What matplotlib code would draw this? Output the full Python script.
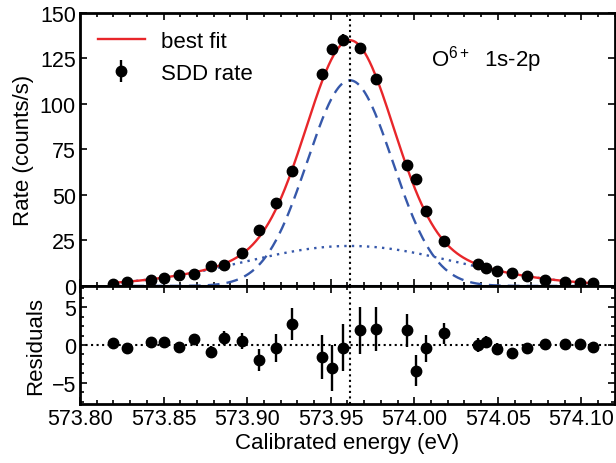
import matplotlib
matplotlib.use("Agg")
import matplotlib.pyplot as plt
import numpy as np
from matplotlib.ticker import MultipleLocator, FormatStrFormatter

plt.rcParams['font.family'] = ['Liberation Sans', 'DejaVu Sans']
plt.rcParams['mathtext.fontset'] = 'custom'
plt.rcParams['mathtext.rm'] = 'Liberation Sans'
plt.rcParams['mathtext.it'] = 'Liberation Sans:italic'
plt.rcParams['font.size'] = 15.5

# measured SDD rate (counts/s) vs calibrated energy (eV)
energy = [573.8199, 573.8283, 573.8423, 573.8502, 573.8592, 573.8682, 573.8782,
          573.8861, 573.8971, 573.9071, 573.9170, 573.9266, 573.9449, 573.9509,
          573.9575, 573.9675, 573.9774, 573.9954, 574.0008, 574.0073, 574.0177,
          574.0379, 574.0432, 574.0498, 574.0586, 574.0672, 574.0781, 574.0901,
          574.0990, 574.1070]
rate = [1.1, 2.4, 3.3, 4.2, 6.0, 6.6, 10.8, 11.5, 18.1, 30.8, 45.6, 63.4,
        116.5, 130.2, 135.3, 130.6, 113.7, 66.7, 58.8, 41.4, 24.9, 12.1, 9.7,
        8.4, 7.1, 5.7, 3.5, 2.4, 1.6, 1.5]
resid = [0.3, -0.45, 0.45, 0.45, -0.2, 0.75, -0.9, 0.9, 0.55, -2.0, -0.45, 2.8,
         -1.6, -3.05, -0.35, 1.95, 2.1, 1.95, -3.4, -0.45, 1.55, 0.0, 0.4, -0.5,
         -1.0, -0.45, 0.1, 0.1, 0.2, -0.25]
err = [0.3, 0.4, 0.5, 0.5, 0.6, 0.75, 0.8, 0.95, 1.1, 1.45, 1.85, 2.15,
       2.9, 3.0, 3.1, 3.1, 2.9, 2.2, 2.05, 1.75, 1.4, 0.95, 0.85, 0.8,
       0.65, 0.5, 0.4, 0.35, 0.3, 0.3]

# fit parameters (read from the plotted components)
center = 573.9615
narrow_amp, narrow_sigma = 113.0, 0.0255
broad_amp, broad_sigma = 22.0, 0.063
background = 0.0

e = np.linspace(min(energy), max(energy), 600)
narrow = narrow_amp * np.exp(-0.5 * ((e - center) / narrow_sigma) ** 2)
broad = broad_amp * np.exp(-0.5 * ((e - center) / broad_sigma) ** 2)
bkg = np.full_like(e, background)
total = narrow + broad + bkg

fig = plt.figure(figsize=(6.16, 4.64), dpi=100)
ax = fig.add_axes([0.130, 0.3815, 0.868, 0.5885])
axr = fig.add_axes([0.130, 0.127, 0.868, 0.2545], sharex=ax)

blue = '#3658aa'
ax.plot(e, bkg, color=blue, lw=1.5)
ax.plot(e, narrow, color=blue, lw=1.7, ls=(0, (5, 3)))
ax.plot(e, broad, color=blue, lw=1.7, ls=(0, (1, 2.2)))
ax.plot(e, total, color='#e8262a', lw=1.7, label='best fit')
ax.errorbar(energy, rate, yerr=err, fmt='o', color='black', ms=7.5,
            elinewidth=1.7, capsize=0, label='SDD rate', zorder=5)
ax.axvline(center, color='black', ls=':', lw=1.5)

ax.set_ylim(0, 150)
ax.yaxis.set_major_locator(MultipleLocator(25))
ax.set_ylabel('Rate (counts/s)', fontsize=16)
ax.text(0.656, 0.806, r'O$^{6+}$  1s-2p', transform=ax.transAxes, fontsize=16)

ax.legend(loc='upper left', frameon=False, handlelength=2.1,
          borderaxespad=0.4, handletextpad=0.75, labelspacing=0.5,
          fontsize=16)

axr.errorbar(energy, resid, yerr=err, fmt='o', color='black', ms=7.5,
             elinewidth=1.7, capsize=0, zorder=5)
axr.axhline(0, color='black', ls=':', lw=1.5)
axr.axvline(center, color='black', ls=':', lw=1.5)
axr.set_ylim(-7.8, 7.8)
axr.yaxis.set_major_locator(MultipleLocator(5))
axr.yaxis.set_minor_locator(MultipleLocator(1.25))
axr.set_ylabel('Residuals', fontsize=16)
axr.set_xlabel('Calibrated energy (eV)', fontsize=16, labelpad=2)

axr.set_xlim(573.80, 574.12)
axr.xaxis.set_major_locator(MultipleLocator(0.05))
axr.xaxis.set_minor_locator(MultipleLocator(0.01))
axr.xaxis.set_major_formatter(FormatStrFormatter('%.2f'))
plt.setp(ax.get_xticklabels(), visible=False)

for a in (ax, axr):
    for s in a.spines.values():
        s.set_linewidth(2.0)
    a.tick_params(which='both', direction='in', top=True, right=True, width=1.2)
    a.tick_params(which='major', length=5)
    a.tick_params(which='minor', length=3)
    a.tick_params(axis='both', which='major', labelsize=15.5, pad=3)

fig.align_ylabels([ax, axr])
plt.savefig('out.png', dpi=100)
plt.close()
